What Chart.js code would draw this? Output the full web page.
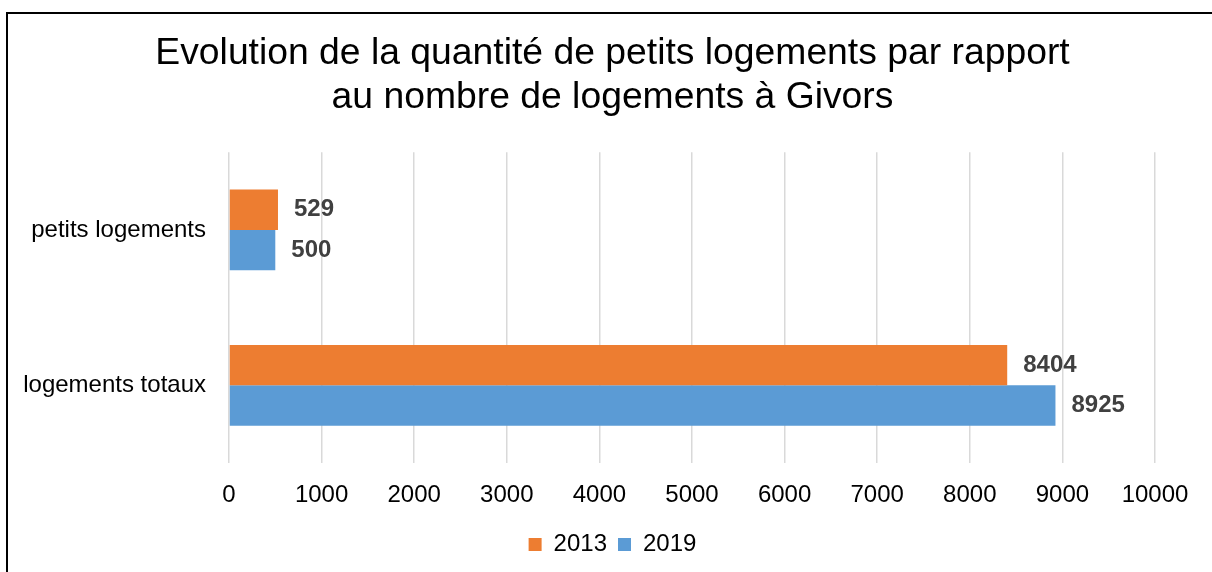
<!DOCTYPE html>
<html>
<head>
<meta charset="utf-8">
<script src="https://cdn.jsdelivr.net/npm/chart.js@4/dist/chart.umd.min.js"></script>
<style>
html,body{margin:0;padding:0;background:#fff;}
#wrap{width:1212px;height:572px;position:relative;}
</style>
</head>
<body>
<div id="wrap"><canvas id="c" width="1212" height="572"></canvas></div>
<script>
const categories = ['petits logements', 'logements totaux'];
const seriesNames = ['2013', '2019'];
const values2013 = [529, 8404];
const values2019 = [500, 8925];
const xTicks = [0, 1000, 2000, 3000, 4000, 5000, 6000, 7000, 8000, 9000, 10000];
const titleLines = ['Evolution de la quantité de petits logements par rapport', 'au nombre de logements à Givors'];

Chart.defaults.font.family = "'Liberation Sans', Arial, sans-serif";
Chart.defaults.color = '#000';

const frame = {
  id: 'frame',
  afterDraw(chart) {
    const ctx = chart.ctx;
    ctx.save();
    ctx.fillStyle = '#000';
    ctx.fillRect(6, 12, 2, 572 - 12);
    ctx.fillRect(6, 12, 1212 - 6, 2);
    ctx.restore();
  }
};

const valueLabels = {
  id: 'valueLabels',
  afterDatasetsDraw(chart) {
    const ctx = chart.ctx;
    ctx.save();
    ctx.font = "bold 24px 'Liberation Sans', Arial, sans-serif";
    ctx.fillStyle = '#404040';
    ctx.textAlign = 'left';
    ctx.textBaseline = 'middle';
    chart.data.datasets.forEach((ds, di) => {
      const meta = chart.getDatasetMeta(di);
      meta.data.forEach((bar, i) => {
        ctx.fillText(String(ds.data[i]), bar.x + 16, bar.y);
      });
    });
    ctx.restore();
  }
};

new Chart(document.getElementById('c'), {
  type: 'bar',
  data: {
    labels: categories,
    datasets: [
      { label: seriesNames[0], data: values2013, backgroundColor: '#ED7D31', categoryPercentage: 0.52, barPercentage: 1.0 },
      { label: seriesNames[1], data: values2019, backgroundColor: '#5B9BD5', categoryPercentage: 0.52, barPercentage: 1.0 }
    ]
  },
  options: {
    indexAxis: 'y',
    responsive: false,
    animation: false,
    layout: { padding: { left: 13, right: 0, top: 0, bottom: 5.5 } },
    plugins: {
      title: {
        display: true,
        text: titleLines,
        color: '#000',
        font: { size: 37.3, weight: 'normal', lineHeight: 1.17 },
        padding: { top: 32, bottom: 33 }
      },
      legend: {
        display: true,
        position: 'bottom',
        labels: {
          boxWidth: 13,
          boxHeight: 13,
          padding: 11,
          color: '#000',
          font: { size: 24 }
        }
      },
      tooltip: { enabled: false }
    },
    scales: {
      x: {
        min: 0,
        max: 10000,
        afterBuildTicks(scale) { scale.ticks = xTicks.map(v => ({ value: v })); },
        grid: { color: '#d9d9d9', lineWidth: 1.5, drawTicks: false, tickLength: 0 },
        border: { display: false },
        ticks: { padding: 18, font: { size: 24 }, color: '#000', maxRotation: 0, autoSkip: false,
                 callback: (v) => String(v) },
        afterFit(scale) { scale.height = 58.5; }
      },
      y: {
        grid: { display: false, drawTicks: false, tickLength: 0 },
        border: { display: false },
        ticks: { padding: 23, font: { size: 24 }, color: '#000' },
        afterFit(scale) { scale.width = 216; }
      },
      yRight: {
        type: 'linear',
        position: 'right',
        display: true,
        grid: { display: false, drawTicks: false },
        border: { display: false },
        ticks: { display: false },
        afterFit(scale) { scale.width = 57; }
      }
    }
  },
  plugins: [frame, valueLabels]
});
</script>
</body>
</html>
